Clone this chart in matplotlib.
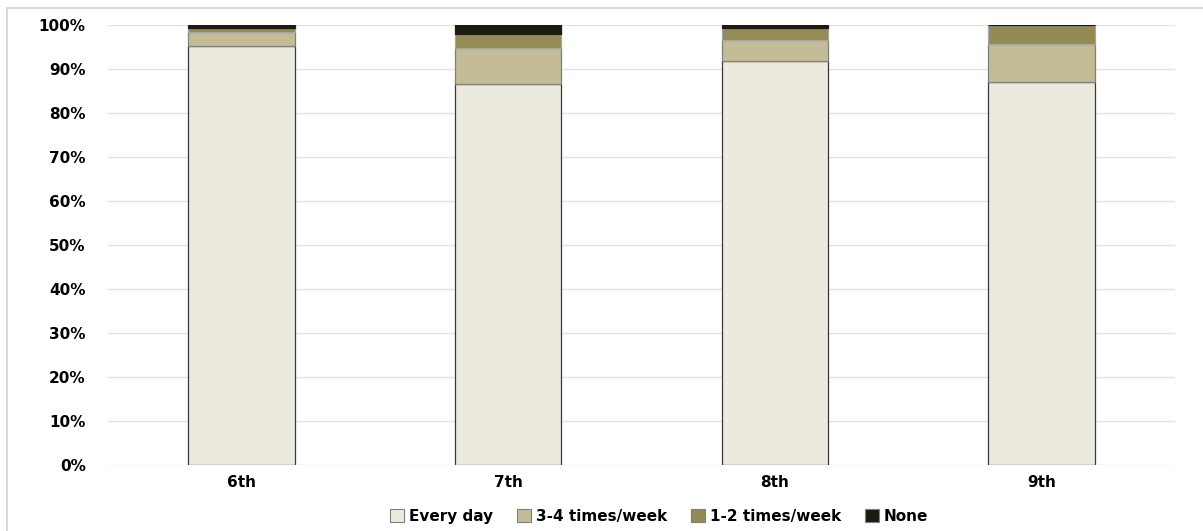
import matplotlib.pyplot as plt
import numpy as np
from matplotlib.lines import Line2D
from matplotlib.ticker import PercentFormatter

plt.rcParams['font.family'] = ['DejaVu Sans']
plt.rcParams['font.weight'] = 'bold'

grades = ['6th', '7th', '8th', '9th']
series = ['Every day', '3-4 times/week', '1-2 times/week', 'None']
every_day = [95.2, 86.6, 91.9, 87.0]
three_four = [3.1, 8.2, 4.6, 8.6]
one_two = [1.0, 3.2, 2.8, 4.4]
none = [0.7, 2.0, 0.7, 0.0]

colors = ['#ECEADF', '#C4BC96', '#948A54', '#1D1B10']
edges = ['#3A3A3A', '#7F7F7F', '#A6A6A6', '#1D1B10']

fig = plt.figure(figsize=(12.03, 5.31), dpi=100)
ax = fig.add_axes([0.0898, 0.1234, 0.8869, 0.8296])

x = np.arange(len(grades))
bottom = np.zeros(len(grades))
for vals, c, e in zip([every_day, three_four, one_two, none], colors, edges):
    vals = np.array(vals)
    ax.bar(x, vals, 0.4, bottom=bottom, color=c, edgecolor=e, linewidth=0.9, zorder=3)
    bottom += vals

ax.set_xlim(-0.5, 3.5)
ax.set_ylim(0, 100)
ax.set_yticks(np.arange(0, 101, 10))
ax.yaxis.set_major_formatter(PercentFormatter(decimals=0))
ax.set_xticks(x)
ax.set_xticklabels(grades)
ax.tick_params(length=0, labelsize=11, pad=7)
ax.tick_params(axis='y', pad=16)
ax.grid(axis='y', color='#E3E3E3', linewidth=1, zorder=0)
for s in ax.spines.values():
    s.set_visible(False)

handles = [plt.Rectangle((0, 0), 1, 1, facecolor=c, edgecolor='#7F7F7F', linewidth=0.8)
           for c in colors]
fig.legend(handles, series, loc='center', bbox_to_anchor=(0.548, 0.028), ncol=4,
           frameon=False, fontsize=11, handlelength=0.9, handleheight=0.9,
           handletextpad=0.3, columnspacing=1.6)

# light frame on the left and top edges
fig.add_artist(Line2D([0.006, 0.006], [0, 0.985], color='#D9D9D9', linewidth=1.5))
fig.add_artist(Line2D([0.006, 1.0], [0.985, 0.985], color='#D9D9D9', linewidth=1.5))

fig.savefig('out.png', dpi=100)
